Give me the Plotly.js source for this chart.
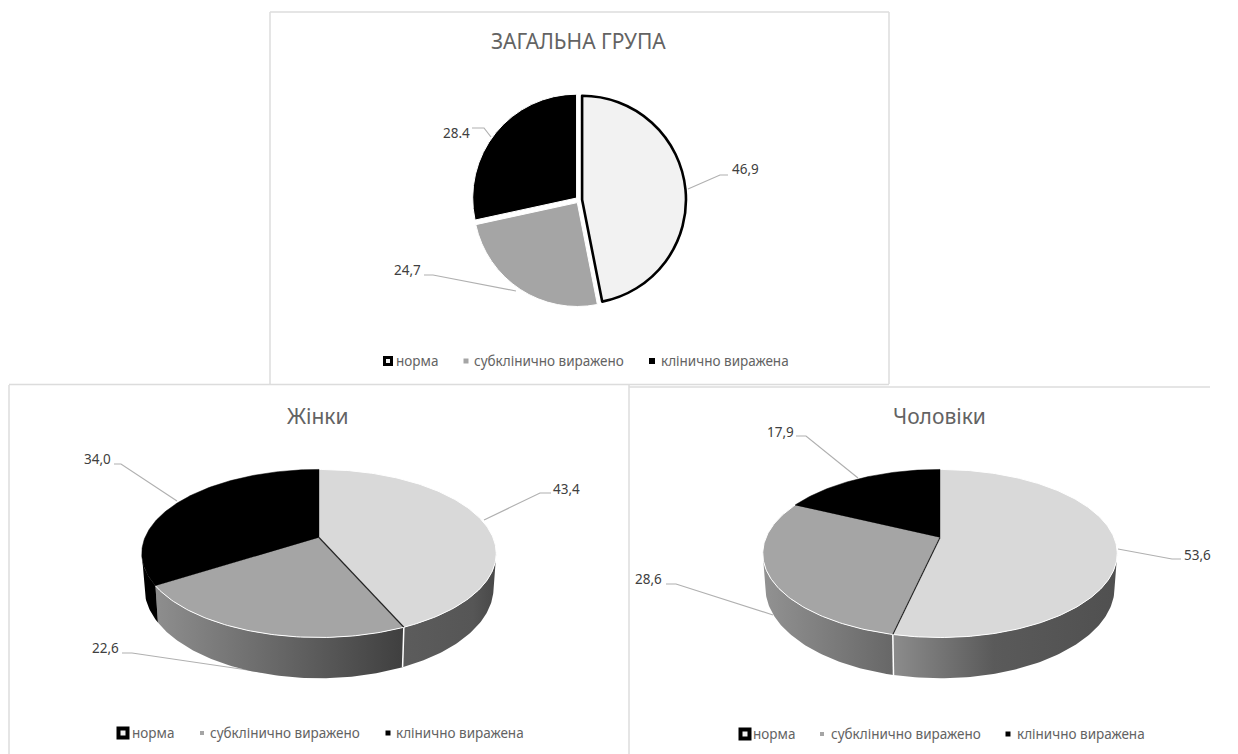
<!DOCTYPE html>
<html>
<head>
<meta charset="utf-8">
<title>Розподіл за групами</title>
<script src="https://cdn.plot.ly/plotly-3.0.1.min.js"></script>
<style>html,body{margin:0;padding:0;background:#fff}#chart{width:1238px;height:754px}</style>
</head>
<body>
<div id="chart"></div>
<script>
// Shares per group, in the order of the categories
const categories = ['норма', 'субклінично виражено', 'клінично виражена'];
const generalValues = [46.9, 24.7, 28.4];
const womenValues = [43.4, 22.6, 34.0];
const menValues = [53.6, 28.6, 17.9];
const generalLabels = ['46,9', '24,7', '28.4'];
const womenLabels = ['43,4', '22,6', '34,0'];
const menLabels = ['53,6', '28,6', '17,9'];
const titles = ['ЗАГАЛЬНА ГРУПА', 'Жінки', 'Чоловіки'];

const W = 1238, H = 754;
const FONT = '"Noto Sans", sans-serif';
const TEXT = '#636363', BORDER = '#dcdcdc', LEADER = '#b0b0b0';
const FLAT_FILL = ['#f2f2f2', '#a5a5a5', '#000000'];
const TOP_FILL = ['#d9d9d9', '#a5a5a5', '#000000'];

// Panel frames and the placement of their furniture, in canvas pixels
const panels = [
  { id: '', box: [270, 12, 889, 384], titleAt: [578, 41],
    labels: generalLabels,
    labelAt: [[745, 169], [407, 270], [456, 133]],
    leaders: [[[688, 189], [720, 175], [728, 175]], [[424, 275], [433, 275], [516, 291]], [[472, 128], [484, 128], [491, 137]]],
    legendY: 361, swatchX: [388, 466, 652], textX: [394, 472, 659], swatchSize: [10, 5, 6], frame: 3 },
  { id: '2', box: [9, 385, 629, 754], titleAt: [318, 416], apex: [319, 537.5],
    labels: womenLabels, values: womenValues,
    labelAt: [[566, 489], [105, 648], [97, 459]],
    leaders: [[[484, 520], [540, 493], [551, 493]], [[122, 653], [132, 653], [261, 672]], [[114, 464], [121, 464], [177, 501]]],
    legendY: 733, swatchX: [123, 202, 388], textX: [130, 208, 394], swatchSize: [13, 4, 5], frame: 4,
    sideScale: [[[0, '#5c5c5c'], [0.75, '#565656'], [1, '#484848']],
                [[0, '#8e8e8e'], [1, '#3f3f3f']],
                [[0, '#000000'], [1, '#000000']]] },
  { id: '3', box: [629, 387, 1210, 754], titleAt: [939, 416], apex: [940, 537.5],
    labels: menLabels, values: menValues,
    labelAt: [[1197, 555], [648, 579], [780, 432]],
    leaders: [[[1118, 549], [1172, 559], [1181, 559]], [[666, 584], [676, 584], [773, 615]], [[796, 436], [806, 436], [858, 478]]],
    legendY: 734, swatchX: [745, 822, 1008], textX: [751, 829, 1015], swatchSize: [13, 4, 5], frame: 4,
    sideScale: [[[0, '#8c8c8c'], [0.45, '#5a5a5a'], [1, '#505050']],
                [[0, '#929292'], [1, '#676767']],
                [[0, '#000000'], [1, '#000000']]] }
];

// Frame segments: the lower panels are open at the bottom and share one divider
const frameLines = [
  [270, 12, 889, 12], [889, 12, 889, 384], [270, 12, 270, 384], [9, 384.5, 889, 384.5],
  [9, 385, 9, 754], [629, 385, 629, 754], [629, 387, 1210, 387]
];

// Tilted disc with a little perspective: the near edge reads larger than the far edge
const DISC = { scale: 174, tilt: 81, persp: 0.19, depth: 33, shrink: 0.985 };

function rimPoint(apex, deg, lower) {
  const t = deg * Math.PI / 180;
  const X = Math.sin(t), Y = -Math.cos(t);
  const k = 1 / (1 - DISC.persp * Y);
  const sx = X * DISC.scale * k * (lower ? DISC.shrink : 1);
  const sy = Y * DISC.tilt * k + (lower ? DISC.depth * k : 0);
  return [apex[0] + sx, apex[1] + sy];
}

function arc(apex, from, to, lower) {
  const pts = [];
  const n = Math.max(2, Math.ceil(Math.abs(to - from)));
  for (let i = 0; i <= n; i++) pts.push(rimPoint(apex, from + (to - from) * i / n, lower));
  return pts;
}

function polyTrace(pts, axes, style) {
  return Object.assign({
    type: 'scatter', mode: 'lines', x: pts.map(p => p[0]), y: pts.map(p => p[1]),
    xaxis: 'x' + axes, yaxis: 'y' + axes, hoverinfo: 'skip', showlegend: false
  }, style);
}

const traces = [];
const annotations = [];
const layout = {
  width: W, height: H, margin: { l: 0, r: 0, t: 0, b: 0 },
  paper_bgcolor: '#ffffff', plot_bgcolor: 'rgba(0,0,0,0)', showlegend: false
};

panels.forEach((p, pi) => {
  const [x0, y0, x1, y1] = p.box;
  const hidden = { visible: false, fixedrange: true };
  layout['xaxis' + p.id] = Object.assign({ domain: [x0 / W, x1 / W], range: [x0, x1], anchor: 'y' + p.id }, hidden);
  layout['yaxis' + p.id] = Object.assign({ domain: [1 - y1 / H, 1 - y0 / H], range: [y1, y0], anchor: 'x' + p.id }, hidden);

  // Callout lines
  p.leaders.forEach(l => traces.push(polyTrace(l, p.id, { line: { color: LEADER, width: 1.2 } })));

  if (p.values) {
    const total = p.values.reduce((a, b) => a + b, 0);
    let start = 0;
    const spans = p.values.map(v => { const s = [start, start + v / total * 360]; start = s[1]; return s; });
    // The rim is only seen between the two silhouette points of the disc
    const edge = Math.acos(-DISC.persp) * 180 / Math.PI;
    const visFrom = edge, visTo = 360 - edge;

    spans.forEach((s, i) => {
      const a = Math.max(s[0], visFrom), b = Math.min(s[1], visTo);
      if (b <= a) return;
      const poly = arc(p.apex, a, b, false).concat(arc(p.apex, b, a, true));
      poly.push(poly[0]);
      traces.push(polyTrace(poly, p.id, {
        fill: 'toself', line: { width: 0, color: 'rgba(0,0,0,0)' },
        fillgradient: { type: 'horizontal', colorscale: p.sideScale[i] }
      }));
    });

    spans.forEach((s, i) => {
      const poly = [p.apex].concat(arc(p.apex, s[0], s[1], false));
      poly.push(p.apex);
      traces.push(polyTrace(poly, p.id, {
        fill: 'toself', fillcolor: TOP_FILL[i],
        line: { color: i === 2 ? '#000000' : '#ffffff', width: i === 2 ? 0.5 : 1 }
      }));
    });

    // Seam between the first two slices: dark across the top, white down the side
    const seam = spans[0][1];
    traces.push(polyTrace([p.apex, rimPoint(p.apex, seam, false)], p.id, { line: { color: '#222222', width: 1.2 } }));
    traces.push(polyTrace([rimPoint(p.apex, seam, false), rimPoint(p.apex, seam, true)], p.id, { line: { color: '#ffffff', width: 1.5 } }));
  }

  // Legend swatches and names
  categories.forEach((c, i) => {
    traces.push({
      type: 'scatter', mode: 'markers', x: [p.swatchX[i]], y: [p.legendY],
      xaxis: 'x' + p.id, yaxis: 'y' + p.id, hoverinfo: 'skip', showlegend: false,
      marker: i === 0
        ? { symbol: 'square', size: p.swatchSize[i] - p.frame, color: '#f2f2f2', line: { color: '#000000', width: p.frame } }
        : { symbol: 'square', size: p.swatchSize[i], color: FLAT_FILL[i], line: { width: 0 } }
    });
    annotations.push({ xref: 'x' + p.id, yref: 'y' + p.id, x: p.textX[i], y: p.legendY, text: c,
      showarrow: false, xanchor: 'left', yanchor: 'middle',
      font: { family: FONT, size: 13.5, color: TEXT } });
  });

  // Value labels
  p.labels.forEach((t, i) => annotations.push({ xref: 'x' + p.id, yref: 'y' + p.id,
    x: p.labelAt[i][0], y: p.labelAt[i][1], text: t, showarrow: false,
    xanchor: 'center', yanchor: 'middle', font: { family: FONT, size: 13.5, color: '#404040' } }));

  annotations.push({ xref: 'x' + p.id, yref: 'y' + p.id, x: p.titleAt[0], y: p.titleAt[1],
    text: titles[pi], showarrow: false, xanchor: 'center', yanchor: 'middle',
    font: { family: FONT, size: 21, color: TEXT } });
});

// The overall group is a flat pie with slightly separated slices
traces.push({
  type: 'pie', values: generalValues, labels: categories, sort: false, direction: 'clockwise', rotation: 0,
  pull: [0.03, 0.03, 0.03], textinfo: 'none', hoverinfo: 'label+value', showlegend: false,
  domain: { x: [472 / W, 686 / W], y: [1 - 307 / H, 1 - 93 / H] },
  marker: { colors: FLAT_FILL, line: { color: ['#000000', '#ffffff', '#ffffff'], width: [2.6, 1, 1] } }
});

layout.annotations = annotations;
layout.shapes = frameLines.map(f => ({
  type: 'line', xref: 'paper', yref: 'paper', layer: 'below',
  x0: f[0] / W, y0: 1 - f[1] / H, x1: f[2] / W, y1: 1 - f[3] / H,
  line: { color: BORDER, width: 1.5 }
}));
Plotly.newPlot('chart', traces, layout, { displayModeBar: false, staticPlot: true });
</script>
</body>
</html>
